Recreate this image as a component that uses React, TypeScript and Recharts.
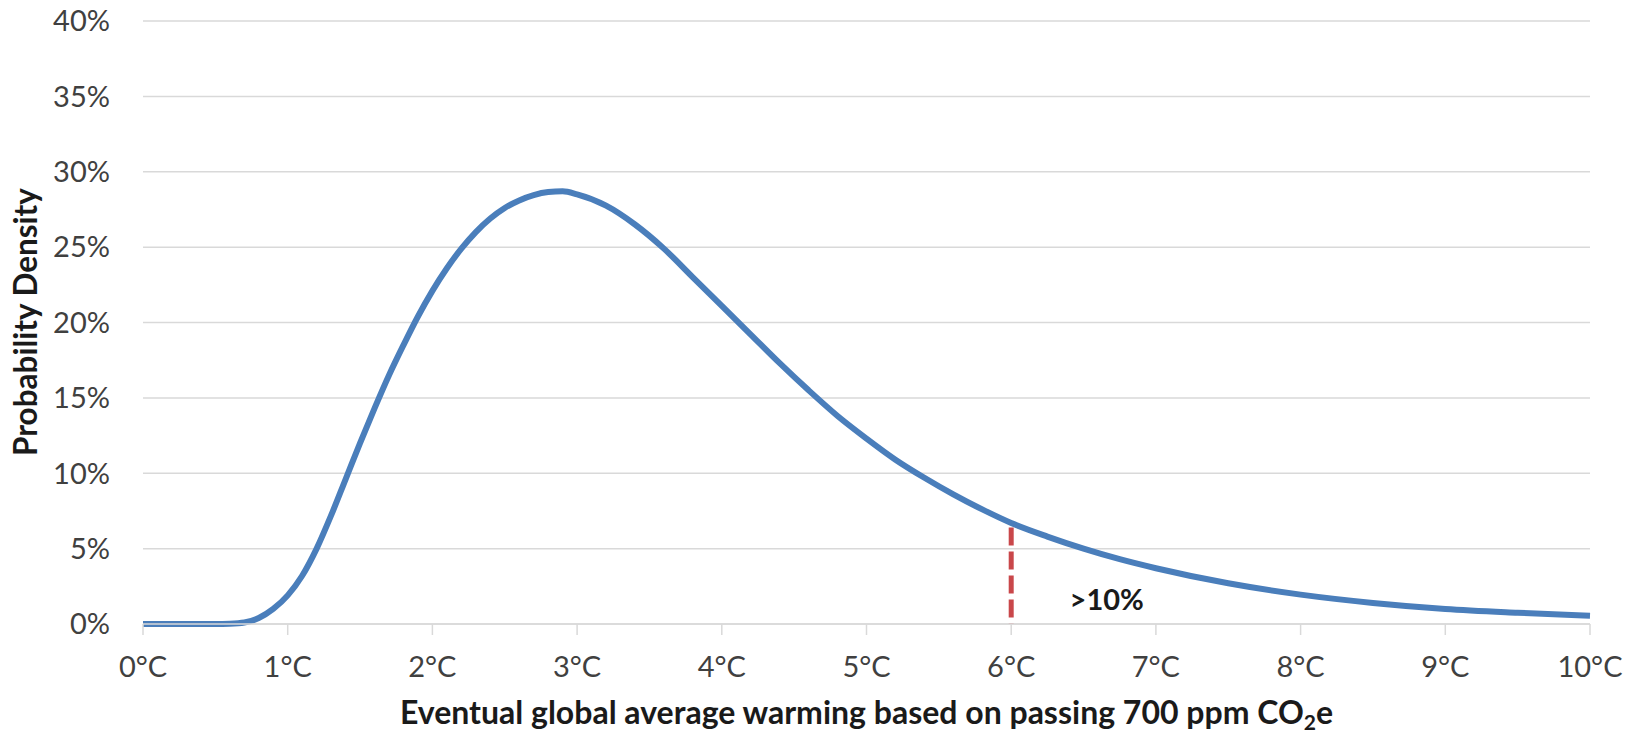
import {
  LineChart,
  Line,
  XAxis,
  YAxis,
  CartesianGrid,
  ReferenceLine,
  ReferenceDot,
  Label,
} from "recharts";

// warming (°C) and probability density (%)
const warming = [
  0, 0.5, 0.6, 0.7, 0.8, 0.9, 1.0, 1.1, 1.2, 1.3, 1.4, 1.5, 1.6, 1.7, 1.8, 1.9,
  2.0, 2.1, 2.2, 2.3, 2.4, 2.5, 2.6, 2.7, 2.8, 2.9, 3.0, 3.2, 3.4, 3.6, 3.8,
  4.0, 4.2, 4.4, 4.6, 4.8, 5.0, 5.2, 5.4, 5.6, 5.8, 6.0, 6.25, 6.5, 6.75, 7.0,
  7.5, 8.0, 8.5, 9.0, 9.5, 10.0,
];
const density = [
  0, 0, 0.02, 0.1, 0.4, 1.0, 1.9, 3.2, 5.0, 7.2, 9.6, 12.0, 14.3, 16.5, 18.5,
  20.4, 22.1, 23.6, 24.9, 26.0, 26.9, 27.6, 28.1, 28.45, 28.65, 28.7, 28.5,
  27.75, 26.5, 24.9, 23.0, 21.1, 19.2, 17.3, 15.5, 13.8, 12.3, 10.9, 9.7, 8.6,
  7.6, 6.7, 5.8, 5.0, 4.3, 3.7, 2.7, 1.95, 1.4, 1.0, 0.75, 0.55,
];
const xTicks = [0, 1, 2, 3, 4, 5, 6, 7, 8, 9, 10];
const yTicks = [0, 5, 10, 15, 20, 25, 30, 35, 40];

const threshold = 6;
const thresholdTop = 6.4;
const tailNote = ">10%";

const data = warming.map((t, i) => ({ t, d: density[i] }));

const FONT = "Lato, 'Open Sans', sans-serif";

const XTitle = ({ viewBox }: any) => {
  const cx = viewBox.x + viewBox.width / 2;
  return (
    <text
      x={cx}
      y={724}
      textAnchor="middle"
      fontFamily={FONT}
      fontWeight={700}
      fontSize={32}
      fill="#1a1a1a"
    >
      Eventual global average warming based on passing 700 ppm CO
      <tspan fontSize={21} dy={6}>2</tspan>
      <tspan dy={-6}>e</tspan>
    </text>
  );
};

const YTitle = () => (
  <text
    x={37}
    y={322}
    transform="rotate(-90, 37, 322)"
    textAnchor="middle"
    fontFamily={FONT}
    fontWeight={700}
    fontSize={31.5}
    fill="#1a1a1a"
  >
    Probability Density
  </text>
);

const NoteLabel = ({ viewBox }: any) => (
  <text
    x={viewBox.x}
    y={viewBox.y}
    dy="0.36em"
    textAnchor="middle"
    fontFamily={FONT}
    fontWeight={700}
    fontSize={29}
    fill="#1a1a1a"
  >
    {tailNote}
  </text>
);

export default function App() {
  return (
    <div
      style={{
        position: "absolute",
        left: 0,
        top: 0,
        width: 1639,
        height: 735,
        background: "#fff",
      }}
    >
      <LineChart
        width={1639}
        height={735}
        data={data}
        margin={{ top: 21, right: 49, bottom: 81, left: 0 }}
      >
        <CartesianGrid vertical={false} stroke="#d9d9d9" strokeWidth={1.5} />
        <XAxis
          type="number"
          dataKey="t"
          domain={[0, 10]}
          ticks={xTicks}
          tickFormatter={(v) => `${v}°C`}
          stroke="#d9d9d9"
          strokeWidth={1.5}
          height={30}
          tickSize={11}
          tickMargin={21}
          tick={{ fill: "#404040", fontSize: 29, fontFamily: FONT }}
          interval={0}
        >
          <Label content={<XTitle />} />
        </XAxis>
        <YAxis
          type="number"
          domain={[0, 40]}
          ticks={yTicks}
          tickFormatter={(v) => `${v}%`}
          axisLine={false}
          tickLine={false}
          tickSize={0}
          tickMargin={33}
          width={143}
          tick={{ fill: "#404040", fontSize: 29, fontFamily: FONT }}
          interval={0}
        >
          <Label content={<YTitle />} />
        </YAxis>
        <ReferenceLine
          segment={[
            { x: threshold, y: thresholdTop },
            { x: threshold, y: 0 },
          ]}
          stroke="#c9474a"
          strokeWidth={5}
          strokeDasharray="18 6"
        />
        <Line
          type="monotone"
          dataKey="d"
          stroke="#4a7ebb"
          strokeWidth={6}
          dot={false}
          isAnimationActive={false}
        />
        <ReferenceDot
          x={6.66}
          y={1.6}
          r={0}
          fill="none"
          stroke="none"
          label={<NoteLabel />}
        />
      </LineChart>
    </div>
  );
}
